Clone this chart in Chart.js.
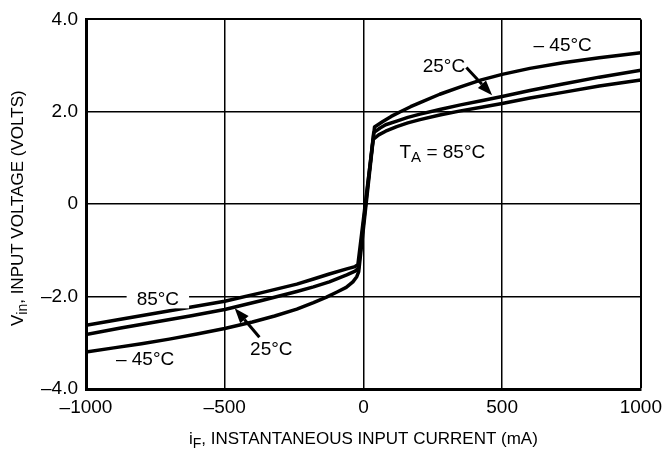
<!DOCTYPE html>
<html>
<head>
<meta charset="utf-8">
<script src="https://cdn.jsdelivr.net/npm/chart.js@4"></script>
<style>
html,body{margin:0;padding:0;background:#fff;}
canvas{display:block;}
</style>
</head>
<body>
<canvas id="c" width="669" height="455"></canvas>
<script>
// ---- data ----
const seriesNames = ['-45°C', '25°C', '85°C'];
const xM45 = [-1000, -900, -800, -700, -600, -500, -400, -320, -240, -180, -133, -95, -62, -38, -24, -17, 40, 70, 100, 133, 170, 204, 275, 350, 425, 500, 600, 719, 850, 1000];
const yM45 = [-3.20, -3.11, -3.02, -2.92, -2.81, -2.69, -2.55, -2.42, -2.27, -2.13, -2.01, -1.90, -1.80, -1.68, -1.57, -1.46, 1.67, 1.79, 1.90, 2.00, 2.11, 2.20, 2.38, 2.54, 2.69, 2.81, 2.94, 3.06, 3.17, 3.28];
const x25 = [-1000, -875, -750, -625, -500, -370, -240, -180, -123, -60, -30, -18, 37, 60, 80, 120, 160, 204, 275, 350, 425, 500, 600, 719, 850, 1000];
const y25 = [-2.82, -2.68, -2.55, -2.42, -2.28, -2.09, -1.89, -1.79, -1.68, -1.53, -1.45, -1.39, 1.55, 1.65, 1.72, 1.80, 1.88, 1.95, 2.05, 2.15, 2.24, 2.33, 2.46, 2.60, 2.75, 2.90];
const x85 = [-1000, -875, -750, -625, -500, -370, -240, -180, -123, -60, -30, -20, 35, 55, 80, 120, 160, 204, 275, 350, 425, 500, 600, 719, 850, 1000];
const y85 = [-2.62, -2.49, -2.36, -2.23, -2.10, -1.92, -1.73, -1.62, -1.51, -1.40, -1.35, -1.31, 1.40, 1.50, 1.58, 1.68, 1.76, 1.83, 1.93, 2.02, 2.10, 2.18, 2.30, 2.42, 2.56, 2.69];
const xTicks = [-1000, -500, 0, 500, 1000];
const yTicks = [-4, -2, 0, 2, 4];

const FONT = "'Liberation Sans Narrow', 'Arial Narrow', 'Liberation Sans', Arial, sans-serif";

function pts(xs, ys) { return xs.map((x, i) => ({ x: x, y: ys[i] })); }
function dash(s) { return String(s).replace('-', '\u2013'); }

// text labels placed in data coordinates
const labels = [
  { parts: [{ t: '\u2013 45°C' }], x: 718, y: 3.43, align: 'center' },
  { parts: [{ t: '25°C' }], x: 290, y: 2.98, align: 'center' },
  { parts: [{ t: 'T' }, { t: 'A', sub: true }, { t: ' = 85°C' }], x: 130, y: 1.12, align: 'left' },
  { parts: [{ t: '85°C' }], x: -741, y: -2.06, align: 'center', bg: true },
  { parts: [{ t: '\u2013 45°C' }], x: -787, y: -3.37, align: 'center' },
  { parts: [{ t: '25°C' }], x: -332, y: -3.15, align: 'center' }
];
const arrows = [
  { from: [371, 2.96], to: [464, 2.36] },
  { from: [-375, -2.88], to: [-464, -2.25] }
];

function richWidth(ctx, parts, size) {
  let w = 0;
  parts.forEach(p => {
    ctx.font = (p.sub ? Math.round(size * 0.8) : size) + 'px ' + FONT;
    w += ctx.measureText(p.t).width;
  });
  return w;
}
function drawRich(ctx, parts, x, y, size, align) {
  const w = richWidth(ctx, parts, size);
  let cx = align === 'center' ? x - w / 2 : (align === 'right' ? x - w : x);
  ctx.textBaseline = 'middle';
  ctx.textAlign = 'left';
  parts.forEach(p => {
    const s = p.sub ? Math.round(size * 0.8) : size;
    ctx.font = s + 'px ' + FONT;
    ctx.fillText(p.t, cx, p.sub ? y + size * 0.3 : y);
    cx += ctx.measureText(p.t).width;
  });
  return w;
}

const annot = {
  id: 'annot',
  afterDatasetsDraw(chart) {
    const ctx = chart.ctx, xs = chart.scales.x, ys = chart.scales.y;
    ctx.save();
    ctx.fillStyle = '#000';
    labels.forEach(l => {
      const px = xs.getPixelForValue(l.x), py = ys.getPixelForValue(l.y);
      if (l.bg) {
        const w = richWidth(ctx, l.parts, 19);
        ctx.fillStyle = '#fff';
        ctx.fillRect(px - w / 2 - 10, py - 9, w + 20, 18);
        ctx.fillStyle = '#000';
      }
      drawRich(ctx, l.parts, px, py, 19, l.align);
    });
    arrows.forEach(a => {
      const x1 = xs.getPixelForValue(a.from[0]), y1 = ys.getPixelForValue(a.from[1]);
      const x2 = xs.getPixelForValue(a.to[0]), y2 = ys.getPixelForValue(a.to[1]);
      const ang = Math.atan2(y2 - y1, x2 - x1);
      const hl = 15, hw = 5.5;
      const bx = x2 - hl * Math.cos(ang), by = y2 - hl * Math.sin(ang);
      ctx.strokeStyle = '#000';
      ctx.lineWidth = 3;
      ctx.beginPath(); ctx.moveTo(x1, y1); ctx.lineTo(bx, by); ctx.stroke();
      ctx.beginPath();
      ctx.moveTo(x2, y2);
      ctx.lineTo(bx + hw * Math.sin(ang), by - hw * Math.cos(ang));
      ctx.lineTo(bx - hw * Math.sin(ang), by + hw * Math.cos(ang));
      ctx.closePath(); ctx.fill();
    });
    // axis titles
    const ca = chart.chartArea;
    drawRich(ctx, [{ t: 'i' }, { t: 'F', sub: true }, { t: ', INSTANTANEOUS INPUT CURRENT (mA)' }],
      (ca.left + ca.right) / 2, 439, 17, 'center');
    ctx.translate(18, (ca.top + ca.bottom) / 2 + 4);
    ctx.rotate(-Math.PI / 2);
    drawRich(ctx, [{ t: 'V' }, { t: 'in', sub: true }, { t: ', INPUT VOLTAGE (VOLTS)' }], 0, 0, 17, 'center');
    ctx.restore();
  }
};

const ds = (name, data) => ({
  label: name, data: data, showLine: true, borderColor: '#000', backgroundColor: '#000',
  borderWidth: 3.5, pointRadius: 0, tension: 0, borderJoinStyle: 'round', borderCapStyle: 'round', fill: false
});

new Chart(document.getElementById('c'), {
  type: 'scatter',
  data: {
    datasets: [
      ds(seriesNames[0], pts(xM45, yM45)),
      ds(seriesNames[1], pts(x25, y25)),
      ds(seriesNames[2], pts(x85, y85))
    ]
  },
  options: {
    responsive: false,
    animation: false,
    layout: { padding: { left: 0, right: 20, top: 16, bottom: 0 } },
    plugins: { legend: { display: false }, tooltip: { enabled: false } },
    scales: {
      x: {
        type: 'linear', min: -1000, max: 1000,
        afterBuildTicks: s => { s.ticks = xTicks.map(v => ({ value: v })); },
        afterFit: s => { s.height = 66; },
        ticks: { color: '#000', font: { family: FONT, size: 19 }, padding: 7, maxRotation: 0,
          callback: v => dash(v) },
        grid: { color: '#000', lineWidth: c => (c.tick && c.tick.value === 1000 ? 2 : 1.5), drawTicks: false },
        border: { color: '#000', width: 3 }
      },
      y: {
        min: -4, max: 4,
        afterBuildTicks: s => { s.ticks = yTicks.map(v => ({ value: v })); },
        afterFit: s => { s.width = 86; },
        ticks: { color: '#000', font: { family: FONT, size: 19 }, padding: 8,
          callback: v => (v === 0 ? '0' : dash(v.toFixed(1))) },
        grid: { color: '#000', lineWidth: c => (c.tick && c.tick.value === 4 ? 2 : 1.5), drawTicks: false },
        border: { color: '#000', width: 3 }
      }
    }
  },
  plugins: [annot]
});
</script>
</body>
</html>
